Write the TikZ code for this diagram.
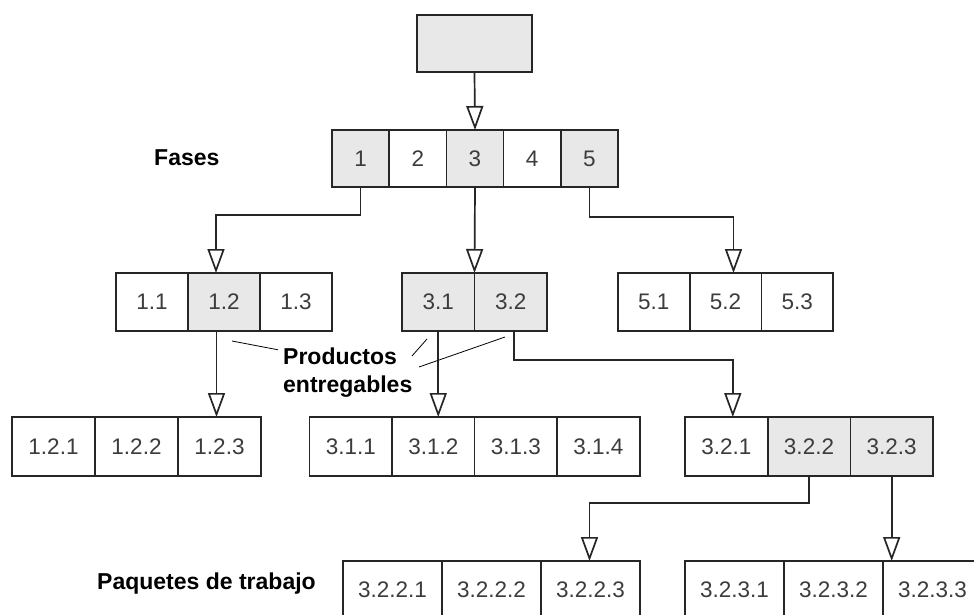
\documentclass[tikz,border=0pt]{standalone}
\usepackage{fontspec}
\setmainfont{Liberation Sans}
\usetikzlibrary{arrows.meta}
\definecolor{boxgray}{HTML}{E8E8E8}
\definecolor{linec}{HTML}{262626}
\begin{document}
\begin{tikzpicture}[x=1pt,y=-1pt,
  cell/.style={draw=linec, line width=1.7pt, inner sep=0pt, outer sep=0pt,
    fill=white, font=\fontsize{22.5}{26}\selectfont, text=linec!90},
  shade/.style={fill=boxgray},
  lvA/.style={cell, minimum width=57.2pt, minimum height=57pt},
  lvB/.style={cell, minimum width=72pt, minimum height=58pt},
  lvC/.style={cell, minimum width=82.7pt, minimum height=59pt},
  lvD/.style={cell, minimum width=99pt, minimum height=58pt},
  link/.style={draw=linec, line width=1.7pt},
  arr/.style={link, -{Triangle[open, length=24pt, width=17pt]}},
  caption/.style={font=\fontsize{23}{27}\selectfont\bfseries, inner sep=0pt, anchor=base west},
  pointer/.style={draw=black, line width=0.8pt}]

\clip (0,0) rectangle (974,615);
\fill[white] (0,0) rectangle (974,615);

% root
\node[cell, shade, minimum width=115pt, minimum height=57pt] (root) at (474.5,43.5) {};

% phases
\node[lvA, shade] (n1) at (360.6,158.5) {1};
\node[lvA]        (n2) at (417.8,158.5) {2};
\node[lvA, shade] (n3) at (475.0,158.5) {3};
\node[lvA]        (n4) at (532.2,158.5) {4};
\node[lvA, shade] (n5) at (589.4,158.5) {5};

% deliverables, second level
\node[lvB]        (n11) at (152,302) {1.1};
\node[lvB, shade] (n12) at (224,302) {1.2};
\node[lvB]        (n13) at (296,302) {1.3};
\node[lvB, minimum width=72.5pt, shade] (n31) at (438.25,302) {3.1};
\node[lvB, minimum width=72.5pt, shade] (n32) at (510.75,302) {3.2};
\node[lvB, minimum width=71.7pt] (n51) at (653.8,302) {5.1};
\node[lvB, minimum width=71.7pt] (n52) at (725.5,302) {5.2};
\node[lvB, minimum width=71.7pt] (n53) at (797.2,302) {5.3};

% third level
\node[lvC, minimum width=83pt] (n121) at (53.5,446.5) {1.2.1};
\node[lvC, minimum width=83pt] (n122) at (136.5,446.5) {1.2.2};
\node[lvC, minimum width=83pt] (n123) at (219.5,446.5) {1.2.3};
\node[lvC] (n311) at (350.8,446.5) {3.1.1};
\node[lvC] (n312) at (433.3,446.5) {3.1.2};
\node[lvC] (n313) at (515.8,446.5) {3.1.3};
\node[lvC] (n314) at (598.3,446.5) {3.1.4};
\node[lvC]        (n321) at (726.3,446.5) {3.2.1};
\node[lvC, shade] (n322) at (809.0,446.5) {3.2.2};
\node[lvC, shade] (n323) at (891.7,446.5) {3.2.3};

% work packages
\node[lvD] (n3221) at (392.5,590) {3.2.2.1};
\node[lvD] (n3222) at (491.5,590) {3.2.2.2};
\node[lvD] (n3223) at (590.5,590) {3.2.2.3};
\node[lvD] (n3231) at (734.5,590) {3.2.3.1};
\node[lvD] (n3232) at (833.5,590) {3.2.3.2};
\node[lvD] (n3233) at (932.5,590) {3.2.3.3};

% captions
\node[caption] (fases) at (154,165) {Fases};
\node[caption] (prod) at (283,364) {Productos};
\node[caption] (entr) at (283,392) {entregables};
\node[caption] (paq) at (97,589) {Paquetes de trabajo};

% connectors
\draw[arr] (root.south) -- (n3.north);
\draw[arr] (n1.south) -- ++(0,28) -| ([xshift=-8pt]n12.north);
\draw[arr] (n3.south) -- (n31.north east);
\draw[arr] (n5.south) -- ++(0,30) -| ([xshift=8pt]n52.north);
\draw[arr] ([xshift=-7.5pt]n12.south) -- ([xshift=-7.5pt]n12.south |- n123.north);
\draw[arr] (n31.south) -- (n31.south |- n312.north);
\draw[arr] ([xshift=3pt]n32.south) -- ++(0,29) -| ([xshift=6.5pt]n321.north);
\draw[arr] (n322.south) -- ++(0,27) -| ([xshift=-1pt]n3223.north);
\draw[arr] (n323.south) -- (n323.south |- n3233.north);

% pointers from the caption to the deliverables
\coordinate (p1) at (232,341);
\coordinate (p2) at (427,339);
\coordinate (p3) at (505,337);
\draw[pointer] (p1) -- ([xshift=-5pt,yshift=6pt]prod.west);
\draw[pointer] (p2) -- (412,356);
\draw[pointer] (p3) -- (419,367);
\end{tikzpicture}
\end{document}
